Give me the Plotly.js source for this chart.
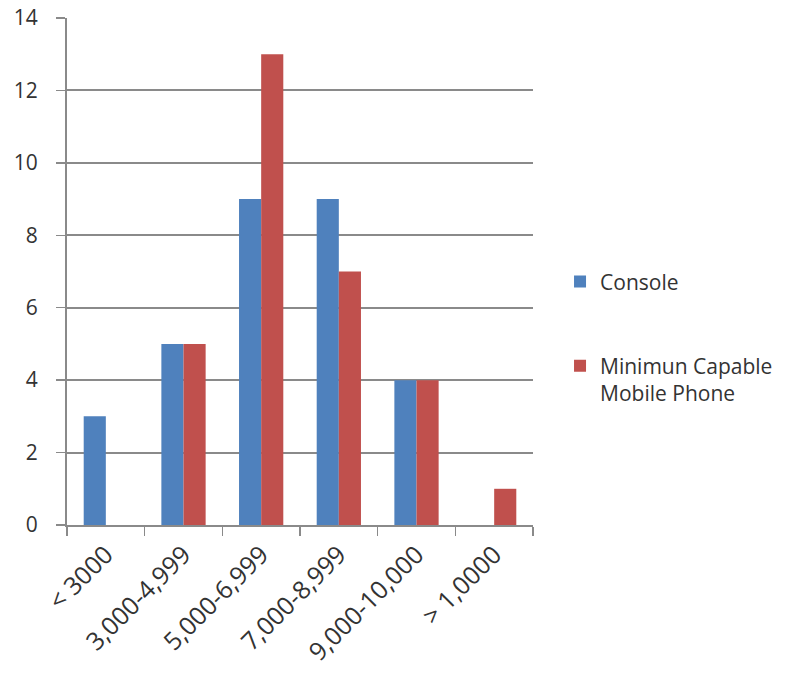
<!DOCTYPE html>
<html>
<head>
<meta charset="utf-8">
<script src="https://cdn.plot.ly/plotly-3.0.1.min.js"></script>
<style>html,body{margin:0;padding:0;background:#fff;}</style>
</head>
<body>
<div id="chart" style="width:801px;height:673px;"></div>
<script>
// Price bands (categories along the x axis)
const priceBands = ['< 3000', '3,000-4,999', '5,000-6,999', '7,000-8,999', '9,000-10,000', '> 1,0000'];
// Counts per band for each device group
const consoleCounts = [3, 5, 9, 9, 4, 0];
const mobileCounts = [0, 5, 13, 7, 4, 1];
const seriesNames = ['Console', 'Minimun Capable<br>Mobile Phone'];
const yTicks = [0, 2, 4, 6, 8, 10, 12, 14];

const font = {family: '"Open Sans", Lato, sans-serif', size: 21, color: '#333333'};
const catFont = {family: font.family, size: 25, color: '#333333'};
const axisGrey = '#8a8a8a';

const traces = [
  {type: 'bar', x: priceBands, y: consoleCounts, name: seriesNames[0],
   marker: {color: '#4F81BD'}, legendgroup: 'a'},
  {type: 'bar', x: priceBands, y: mobileCounts, name: seriesNames[1],
   marker: {color: '#C0504D'}, legendgroup: 'b'}
];

const layout = {
  width: 801, height: 673,
  margin: {l: 67, r: 268, t: 18, b: 148},
  paper_bgcolor: '#fff', plot_bgcolor: '#fff',
  font: font,
  barmode: 'group', bargap: 0.43, bargroupgap: 0,
  showlegend: true,
  legend: {x: 1.058, y: 0.37, xanchor: 'left', yanchor: 'middle',
           tracegroupgap: 54, traceorder: 'grouped', valign: 'top',
           font: font, itemwidth: 30},
  xaxis: {type: 'category', tickangle: -45, showgrid: false,
          showline: true, linecolor: axisGrey, linewidth: 2,
          ticks: 'outside', tickson: 'boundaries', ticklen: 9, tickwidth: 1.5, tickcolor: axisGrey,
          ticklabelstandoff: 3, tickfont: catFont, fixedrange: true},
  yaxis: {range: [0, 14], tickvals: yTicks, showgrid: true, gridcolor: axisGrey, gridwidth: 2,
          showline: true, linecolor: axisGrey, linewidth: 2, zeroline: false,
          ticks: 'outside', ticklen: 9, tickwidth: 1.5, tickcolor: axisGrey, ticklabelstandoff: 14,
          tickfont: font, fixedrange: true}
};

Plotly.newPlot('chart', traces, layout, {displayModeBar: false, staticPlot: true});
</script>
</body>
</html>
